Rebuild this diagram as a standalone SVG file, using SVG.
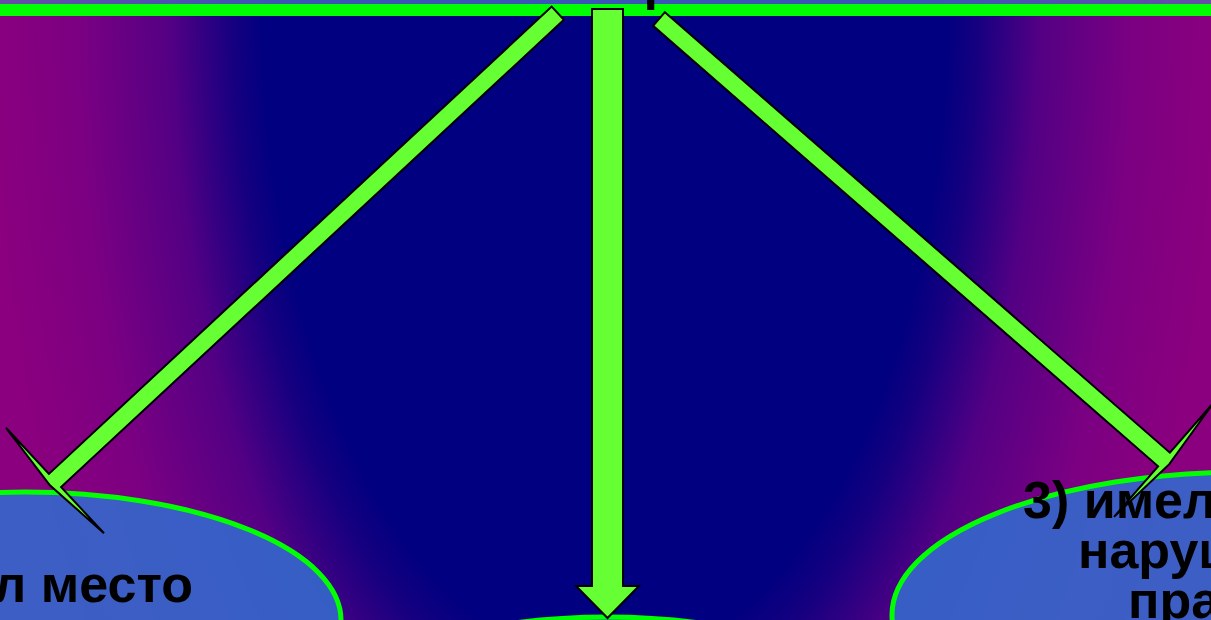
<svg xmlns="http://www.w3.org/2000/svg" width="1211" height="620" viewBox="0 0 1211 620">
<defs>
<radialGradient id="bg" gradientUnits="userSpaceOnUse" cx="0" cy="0" r="1" gradientTransform="translate(605,0) scale(620,1200)">
<stop offset="0" stop-color="#000080"/>
<stop offset="0.55" stop-color="#000080"/>
<stop offset="0.6" stop-color="#150080"/>
<stop offset="0.7" stop-color="#530084"/>
<stop offset="0.85" stop-color="#7b0082"/>
<stop offset="1" stop-color="#8b007e"/>
</radialGradient>
<linearGradient id="strip" x1="0" y1="0" x2="1" y2="0">
<stop offset="0" stop-color="#6b4aa8"/>
<stop offset="0.25" stop-color="#3a55b5"/>
<stop offset="0.75" stop-color="#3a55b5"/>
<stop offset="1" stop-color="#6b4ba8"/>
</linearGradient>
<style>
.node{fill:#3468cc;fill-opacity:0.9;stroke:#00ff00;stroke-width:5}
.lbl{font-family:"Liberation Sans",Arial,sans-serif;font-weight:bold;font-size:52px;fill:#000}
.arrow{fill:#66ff33;stroke:#000;stroke-width:2;stroke-linejoin:miter}
</style>
</defs>
<rect x="0" y="0" width="1211" height="620" fill="url(#bg)"/>
<g id="top-node">
<rect x="-20" y="-200" width="1251" height="210" fill="url(#strip)" stroke="#00ff00" stroke-width="12"/>
<text class="lbl" x="643.5" y="-1">р</text>
</g>
<g id="node-left">
<ellipse class="node" cx="25" cy="620" rx="316" ry="128"/>
<text class="lbl" x="193" y="602" text-anchor="end">л место</text>
</g>
<g id="node-center">
<ellipse class="node" cx="607" cy="757" rx="320" ry="140"/>
</g>
<g id="node-right">
<ellipse class="node" cx="1245" cy="615" rx="353" ry="143"/>
<text class="lbl" x="1023" y="518">3) имел</text>
<text class="lbl" x="1078" y="568">наруш</text>
<text class="lbl" x="1128" y="618">пра</text>
</g>
<g id="connectors">
<polygon class="arrow" points="551.7,6.6 48.9,473.9 6,427.8 49.9,485.3 104,533.2 61.1,487.1 563.9,19.8"/>
<polygon class="arrow" points="592,9 623,9 623,586 639,586 607.5,618 576,586 592,586"/>
<polygon class="arrow" points="664.9,12.2 1169.9,452.7 1214,402.2 1169.3,464.1 1114,516.8 1158.1,466.3 653.1,25.8"/>
</g>
</svg>
